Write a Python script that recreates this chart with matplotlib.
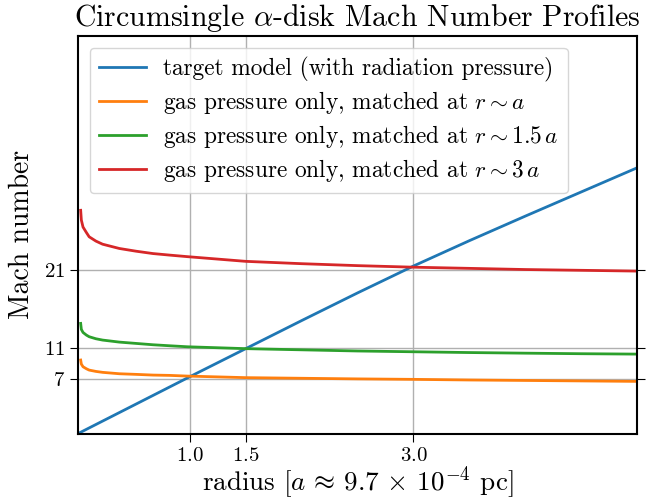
import matplotlib
matplotlib.use("Agg")
import matplotlib.pyplot as plt

plt.rcParams["font.family"] = "serif"
plt.rcParams["font.serif"] = ["cmr10", "DejaVu Serif"]
plt.rcParams["mathtext.fontset"] = "cm"
plt.rcParams["axes.formatter.use_mathtext"] = True

# radius in units of a
radius_target = [0.0, 0.5, 1.0, 1.5, 2.0, 2.5, 3.0, 3.5, 4.0, 4.5, 5.0]
mach_target = [0.0, 3.65, 7.3, 10.9, 14.5, 18.05, 21.5, 24.75, 27.9, 31.0, 34.1]

radius_gas = [0.024, 0.03, 0.045, 0.075, 0.10, 0.16, 0.22, 0.37, 0.52, 0.67, 0.82, 0.98,
              1.5, 2.0, 2.5, 3.0, 3.5, 4.0, 4.5, 5.0]
mach_gas_1a = [9.44, 8.92, 8.58, 8.32, 8.15, 7.98, 7.86, 7.68, 7.6, 7.51, 7.47, 7.38,
               7.18, 7.1, 7.02, 6.96, 6.88, 6.82, 6.76, 6.7]
mach_gas_15a = [14.14, 13.37, 12.98, 12.64, 12.43, 12.17, 12.0, 11.74, 11.57, 11.4, 11.27, 11.14,
                10.9, 10.75, 10.6, 10.5, 10.4, 10.32, 10.25, 10.2]
mach_gas_3a = [28.65, 27.4, 26.5, 25.8, 25.25, 24.7, 24.3, 23.75, 23.4, 23.1, 22.9, 22.7,
               22.1, 21.8, 21.55, 21.35, 21.2, 21.05, 20.95, 20.85]

labels = [
    "target model (with radiation pressure)",
    r"gas pressure only, matched at $r \sim a$",
    r"gas pressure only, matched at $r \sim 1.5\,a$",
    r"gas pressure only, matched at $r \sim 3\,a$",
]
xticks = [1.0, 1.5, 3.0]
yticks = [7, 11, 21]

fig = plt.figure(figsize=(6.57, 5.01), dpi=100)
ax = fig.add_axes([0.1187, 0.1345, 0.851, 0.7935])

ax.plot(radius_target, mach_target, color="tab:blue", lw=2, label=labels[0])
ax.plot(radius_gas, mach_gas_1a, color="tab:orange", lw=2, label=labels[1])
ax.plot(radius_gas, mach_gas_15a, color="tab:green", lw=2, label=labels[2])
ax.plot(radius_gas, mach_gas_3a, color="tab:red", lw=2, label=labels[3])

ax.set_xlim(0, 5)
ax.set_ylim(0, 51)
ax.set_xticks(xticks)
ax.set_yticks(yticks)
ax.tick_params(axis="y", right=True)
ax.tick_params(labelsize=15, length=6)
ax.grid(True, color="#b0b0b0", lw=1)
for s in ax.spines.values():
    s.set_linewidth(1.5)

ax.set_title(r"Circumsingle $\alpha$-disk Mach Number Profiles", fontsize=21.5, pad=7)
ax.set_xlabel(r"radius [$a \,\approx\, 9.7 \,\times\, 10^{-4}$ pc]", fontsize=19.5, labelpad=0)
ax.set_ylabel("Mach number", fontsize=20, labelpad=6)
ax.legend(loc="upper left", fontsize=16.8, borderaxespad=0.5, labelspacing=0.3,
          handletextpad=0.75, borderpad=0.4)

fig.savefig("out.png", dpi=100)
